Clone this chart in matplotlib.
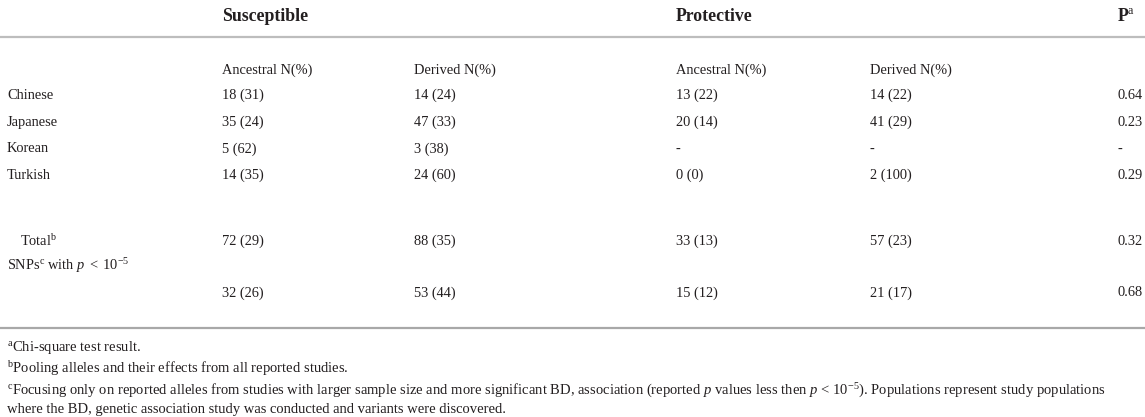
import matplotlib
matplotlib.use("Agg")
import matplotlib.pyplot as plt

plt.rcParams['font.family'] = ['Liberation Serif', 'DejaVu Serif']
plt.rcParams['mathtext.fontset'] = 'custom'
plt.rcParams['mathtext.rm'] = 'Liberation Serif'
plt.rcParams['mathtext.it'] = 'Liberation Serif:italic'
plt.rcParams['mathtext.bf'] = 'Liberation Serif:bold'

# ---- data ----
group_headers = ["Susceptible", "Protective", r"$\mathbf{P}^{\mathrm{a}}$"]
sub_headers = ["Ancestral N(%)", "Derived N(%)", "Ancestral N(%)", "Derived N(%)"]
row_labels = ["Chinese", "Japanese", "Korean", "Turkish",
              r"$\mathrm{Total}^{\mathrm{b}}$",
              r"$\mathrm{SNPs}^{\mathrm{c}}\mathrm{\ with\ }p\ <\ 10^{-5}$", ""]
susc_ancestral = ["18 (31)", "35 (24)", "5 (62)", "14 (35)", "72 (29)", "", "32 (26)"]
susc_derived = ["14 (24)", "47 (33)", "3 (38)", "24 (60)", "88 (35)", "", "53 (44)"]
prot_ancestral = ["13 (22)", "20 (14)", "-", "0 (0)", "33 (13)", "", "15 (12)"]
prot_derived = ["14 (22)", "41 (29)", "-", "2 (100)", "57 (23)", "", "21 (17)"]
p_values = ["0.64", "0.23", "-", "0.29", "0.32", "", "0.68"]
footnotes = [
    r"$^{\mathrm{a}}$Chi-square test result.",
    r"$^{\mathrm{b}}$Pooling alleles and their effects from all reported studies.",
    r"$^{\mathrm{c}}$Focusing only on reported alleles from studies with larger sample size and more significant BD, association (reported $p$ values less then $p$ < 10$^{-5}$). Populations represent study populations",
    "where the BD, genetic association study was conducted and variants were discovered.",
]

# ---- layout (pixels) ----
W, H = 1145, 417
fig = plt.figure(figsize=(W / 100, H / 100), dpi=100)
ax = fig.add_axes([0, 0, 1, 1])
ax.set_xlim(0, W)
ax.set_ylim(H, 0)
ax.axis('off')

col_x = [222, 414, 676, 870, 1117]
header_x = [222, 676, 1117]
row_y = [95, 122, 149, 175, 241, 266, 293]
label_x = [7, 7, 7, 7, 20, 7, 7]
body_fs = 10.4
text_col = '#231f20'

for x, t in zip(header_x, group_headers):
    ax.text(x, 16, t, fontsize=12.8, fontweight='bold', va='center', ha='left', color=text_col)

ax.plot([0, W], [37, 37], color='#bdbdbd', lw=1.6, solid_capstyle='butt')
ax.plot([0, W], [328, 328], color='#a8a8a8', lw=1.6, solid_capstyle='butt')

for x, t in zip(col_x[:4], sub_headers):
    ax.text(x, 70, t, fontsize=body_fs, va='center', ha='left', color=text_col)

columns = [susc_ancestral, susc_derived, prot_ancestral, prot_derived, p_values]
for i, y in enumerate(row_y):
    ax.text(label_x[i], y, row_labels[i], fontsize=body_fs, va='center', ha='left', color=text_col)
    for x, col in zip(col_x, columns):
        if col[i]:
            ax.text(x, y, col[i], fontsize=body_fs, va='center', ha='left', color=text_col)

# footnotes: choose size so the long line fits the reference width
foot_y = [347, 369, 391, 410]
fig.canvas.draw()
renderer = fig.canvas.get_renderer()
probe = ax.text(7, foot_y[2], footnotes[2], fontsize=10, va='center', ha='left')
w = probe.get_window_extent(renderer).width
probe.remove()
foot_fs = max(7.5, min(10.5, 10 * (1118 / w)))
for y, t in zip(foot_y, footnotes):
    ax.text(7, y, t, fontsize=foot_fs, va='center', ha='left', color=text_col)

fig.savefig("out.png", dpi=100, facecolor='white')
